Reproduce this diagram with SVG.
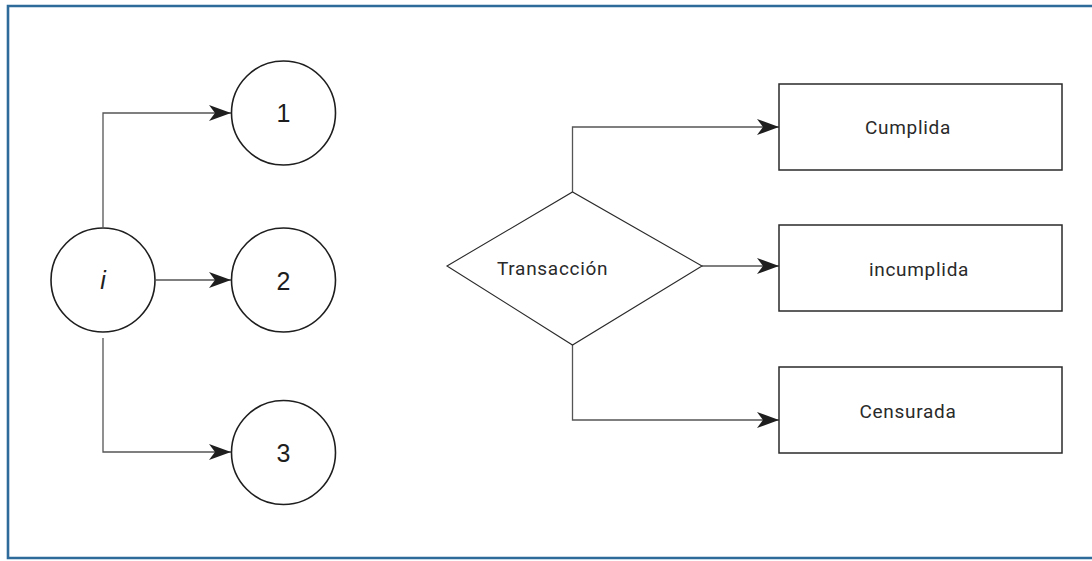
<svg xmlns="http://www.w3.org/2000/svg" width="1092" height="561" viewBox="0 0 1092 561">
  <style>
    .node { fill: #ffffff; stroke: #1e1e1e; stroke-width: 1.6; }
    .box { fill: #ffffff; stroke: #2a2a2a; stroke-width: 1.5; }
    .dia { fill: #ffffff; stroke: #2a2a2a; stroke-width: 1.1; }
    .conn { fill: none; stroke: #555555; stroke-width: 1.3; }
    .num { font-family: "Liberation Sans", Arial, sans-serif; font-size: 25px; fill: #1e1e1e; text-anchor: middle; }
    .lbl { font-family: Roboto, "Liberation Sans", sans-serif; font-size: 19px; fill: #2a2a2a; letter-spacing: 0.7px; }
  </style>
  <defs>
    <marker id="arrow" markerUnits="userSpaceOnUse" markerWidth="23" markerHeight="17" refX="22" refY="8" orient="auto">
      <path d="M0,0 L22,8 L0,16 L6,8 Z" fill="#1e1e1e"/>
    </marker>
  </defs>
  <rect width="1092" height="561" fill="#ffffff"/>
  <path d="M1092,6 H8 V558 H1092" fill="none" stroke="#2e6a9a" stroke-width="2.6"/>

  <g id="connectors">
    <path class="conn" d="M103,227 V113 H231" marker-end="url(#arrow)"/>
    <path class="conn" d="M156,280 H231" marker-end="url(#arrow)"/>
    <path class="conn" d="M103,338 V452 H231" marker-end="url(#arrow)"/>
    <path class="conn" d="M572.5,192 V127 H779" marker-end="url(#arrow)"/>
    <path class="conn" d="M702,266 H779" marker-end="url(#arrow)"/>
    <path class="conn" d="M572.5,345 V420 H779" marker-end="url(#arrow)"/>
  </g>

  <g id="node-i">
    <circle class="node" cx="103" cy="280" r="52"/>
    <text class="num" x="103" y="289" font-style="italic">i</text>
  </g>
  <g id="node-1">
    <circle class="node" cx="283.5" cy="113" r="52"/>
    <text class="num" x="283.5" y="122">1</text>
  </g>
  <g id="node-2">
    <circle class="node" cx="283.5" cy="280" r="52"/>
    <text class="num" x="283.5" y="290">2</text>
  </g>
  <g id="node-3">
    <circle class="node" cx="283.5" cy="452.5" r="52"/>
    <text class="num" x="283.5" y="462">3</text>
  </g>

  <g id="node-transaccion">
    <polygon class="dia" points="447,266 572.5,192 702,266 572.5,345"/>
    <text class="lbl" x="497" y="275">Transacción</text>
  </g>
  <g id="node-cumplida">
    <rect class="box" x="779" y="84" width="283" height="86"/>
    <text class="lbl" x="908" y="134" text-anchor="middle">Cumplida</text>
  </g>
  <g id="node-incumplida">
    <rect class="box" x="779" y="225" width="283" height="86"/>
    <text class="lbl" x="919" y="276" text-anchor="middle">incumplida</text>
  </g>
  <g id="node-censurada">
    <rect class="box" x="779" y="367" width="283" height="86"/>
    <text class="lbl" x="908" y="418" text-anchor="middle">Censurada</text>
  </g>
</svg>
